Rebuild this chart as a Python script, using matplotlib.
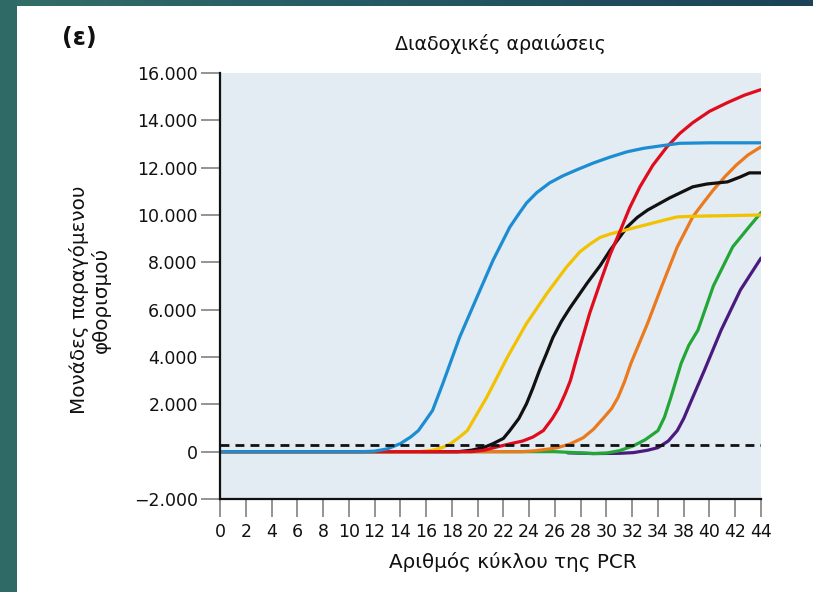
import numpy as np
import matplotlib
matplotlib.use("Agg")
import matplotlib.pyplot as plt
from matplotlib.patches import Rectangle
from matplotlib.ticker import FuncFormatter
from matplotlib.colors import LinearSegmentedColormap

plt.rcParams['font.family'] = ['DejaVu Sans']

# x values are in axis-position units (tick positions 0,2,...,42; labels below)
tick_pos = list(range(0, 43, 2))
tick_labels = ["0", "2", "4", "6", "8", "10", "12", "14", "16", "18", "20", "22",
               "24", "26", "28", "30", "32", "34", "38", "40", "42", "44"]

blue_x = [0, 11.0, 12.0, 13.0, 14.0, 14.8, 15.4, 16.0, 16.5, 17.3, 18.6, 19.95, 21.2,
          22.5, 23.2, 23.8, 24.6, 25.6, 26.6, 27.7, 29.0, 30.3, 31.6, 32.9, 34.2, 35.7, 38.0, 42]
blue_y = [0, 0, 20, 120, 340, 620, 890, 1350, 1740, 2880, 4830, 6530, 8090,
          9490, 10050, 10510, 10950, 11360, 11650, 11910, 12200, 12450, 12670, 12820, 12920, 13030, 13050, 13050]

yellow_x = [0, 15.5, 16.5, 17.3, 17.9, 18.6, 19.2, 20.7, 22.3, 23.8, 25.4, 26.9, 27.95,
            28.8, 29.5, 30.3, 31.1, 32.3, 33.6, 34.6, 35.5, 37.0, 42]
yellow_y = [0, 0, 60, 180, 340, 620, 890, 2290, 3980, 5420, 6700, 7800, 8450,
            8800, 9050, 9200, 9310, 9480, 9660, 9800, 9920, 9950, 10000]

black_x = [0, 18.5, 19.5, 20.5, 21.2, 22.0, 22.5, 23.2, 23.8, 24.3, 24.8, 25.35, 25.85, 26.5,
           27.2, 28.5, 29.5, 30.3, 31.6, 32.4, 33.2, 34.9, 36.7, 37.8, 39.4, 40.4, 41.1, 42]
black_y = [0, 0, 60, 180, 340, 560, 890, 1400, 2030, 2700, 3430, 4150, 4830, 5500,
           6100, 7120, 7850, 8520, 9490, 9900, 10210, 10720, 11190, 11310, 11400, 11610, 11780, 11780]

red_x = [0, 19.5, 20.5, 21.5, 22.5, 23.5, 24.3, 25.1, 25.8, 26.3, 26.8, 27.2, 27.7, 28.7,
         29.5, 30.3, 31.1, 31.8, 32.6, 33.6, 34.7, 35.7, 36.7, 38.0, 39.4, 40.7, 42]
red_y = [0, 0, 60, 200, 330, 450, 620, 890, 1400, 1850, 2450, 3000, 3980, 5850,
         7120, 8350, 9370, 10300, 11190, 12100, 12880, 13450, 13900, 14380, 14750, 15060, 15300]

orange_x = [0, 23.5, 24.5, 25.5, 26.2, 27.2, 28.2, 29.0, 29.8, 30.4, 30.9, 31.4, 31.9, 33.2,
            34.3, 35.5, 36.7, 37.5, 38.3, 39.2, 40.1, 41.0, 42]
orange_y = [0, 0, 40, 110, 170, 330, 590, 950, 1440, 1820, 2290, 2950, 3730, 5430,
            7000, 8650, 9920, 10500, 11060, 11620, 12120, 12540, 12880]

green_x = [0, 26.0, 27.5, 29.0, 30.0, 31.0, 32.1, 33.0, 34.0, 34.5, 35.0, 35.8, 36.4, 37.1,
           38.3, 39.8, 41.0, 42]
green_y = [0, 0, -40, -80, -60, 40, 250, 500, 890, 1450, 2290, 3730, 4500, 5130,
           7000, 8650, 9450, 10100]

purple_x = [27.0, 29.0, 31.0, 32.1, 33.2, 34.0, 34.8, 35.5, 36.0, 36.5, 37.6, 38.9, 40.4, 42]
purple_y = [-50, -80, -70, -40, 60, 170, 450, 890, 1400, 2040, 3430, 5130, 6830, 8180]

threshold = 300

series = [
    (purple_x, purple_y, "#4B1A7E"),
    (green_x, green_y, "#22A636"),
    (orange_x, orange_y, "#EA7A1E"),
    (black_x, black_y, "#111111"),
    (yellow_x, yellow_y, "#F2C200"),
    (red_x, red_y, "#E00B1C"),
    (blue_x, blue_y, "#1C8DD2"),
]

fig = plt.figure(figsize=(8.13, 5.92), dpi=100)
fig.patch.set_facecolor("white")

# decorative frame strips
fig.patches.append(Rectangle((0, 0), 17 / 813, 1, transform=fig.transFigure,
                             facecolor="#2F6A66", edgecolor="none", zorder=0))
gax = fig.add_axes([0, 1 - 6 / 592, 1, 6 / 592])
grad = np.linspace(0, 1, 256).reshape(1, -1)
cm = LinearSegmentedColormap.from_list("strip", ["#336E68", "#245763", "#1B4257"])
gax.imshow(grad, aspect="auto", cmap=cm)
gax.set_axis_off()

ax = fig.add_axes([220 / 813, 1 - 499 / 592, (761 - 220) / 813, (499 - 73) / 592])
ax.set_facecolor("#E3EBF3")

for xs, ys, c in series:
    ax.plot(xs, ys, color=c, lw=2.3, solid_capstyle="round", solid_joinstyle="round")

ax.axhline(threshold, color="#111111", lw=2, ls=(0, (3.2, 2.2)), zorder=5)

ax.set_xlim(0, 42)
ax.set_ylim(-2000, 16000)
ax.set_xticks(tick_pos)
ax.set_xticklabels(tick_labels)
ax.set_yticks(np.arange(-2000, 16001, 2000))
ax.yaxis.set_major_formatter(FuncFormatter(
    lambda v, p: ("\u2212" if v < 0 else "") + f"{abs(int(v)):,}".replace(",", ".")))

for s in ["top", "right"]:
    ax.spines[s].set_visible(False)
for s in ["left", "bottom"]:
    ax.spines[s].set_linewidth(1.6)
    ax.spines[s].set_color("#111111")

ax.tick_params(axis="y", direction="out", length=14, width=1.1, color="#777777",
               labelsize=12.5, pad=2, labelcolor="#111111")
ax.tick_params(axis="x", direction="out", length=13, width=1.1, color="#777777",
               labelsize=12.5, pad=4, labelcolor="#111111")

fig.text(500 / 813, 1 - 44 / 592, "Διαδοχικές αραιώσεις", ha="center", va="center",
         fontsize=13.8, color="#111111")
fig.text(62 / 813, 1 - 38 / 592, "(ε)", ha="left", va="center", fontsize=17,
         fontweight="bold", color="#111111")
fig.text(513 / 813, 1 - 562 / 592, "Αριθμός κύκλου της PCR", ha="center", va="center",
         fontsize=14.3, color="#111111")
fig.text(90 / 813, 1 - 300 / 592, "Μονάδες παραγόμενου\nφθορισμού", ha="center",
         va="center", rotation=90, fontsize=14.3, color="#111111", linespacing=1.15)

fig.savefig("out.png", dpi=100)
